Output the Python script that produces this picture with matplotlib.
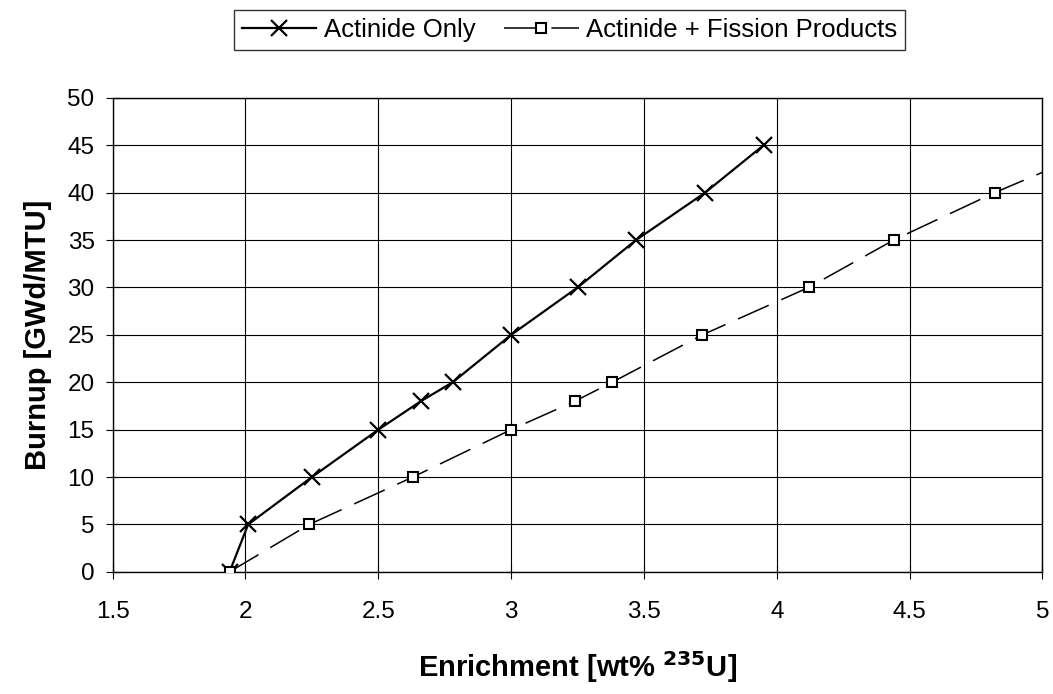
import matplotlib
matplotlib.use("Agg")
import matplotlib.pyplot as plt

plt.rcParams['font.family'] = ['Liberation Sans', 'DejaVu Sans']

# enrichment (wt% U-235) needed for each burnup step
burnup_act = [0, 5, 10, 15, 18, 20, 25, 30, 35, 40, 45]
enrich_act = [1.94, 2.01, 2.25, 2.50, 2.66, 2.78, 3.00, 3.25, 3.47, 3.73, 3.95]

burnup_fp = [0, 5, 10, 15, 18, 20, 25, 30, 35, 40, 45]
enrich_fp = [1.94, 2.24, 2.63, 3.00, 3.24, 3.38, 3.72, 4.12, 4.44, 4.82, 5.24]

x_ticks = [1.5, 2, 2.5, 3, 3.5, 4, 4.5, 5]
y_ticks = list(range(0, 51, 5))

fig = plt.figure(figsize=(10.53, 6.94), dpi=100)
ax = fig.add_axes([0.107, 0.176, 0.883, 0.683])

ax.plot(enrich_act, burnup_act, color='black', lw=1.6, marker='x',
        markersize=11, markeredgewidth=1.6, label='Actinide Only', zorder=3)
ax.plot(enrich_fp, burnup_fp, color='black', lw=1.1, dashes=(22, 9),
        marker='s', markersize=7.5, markerfacecolor='white',
        markeredgewidth=1.5, label='Actinide + Fission Products', zorder=3)

ax.set_xlim(1.5, 5)
ax.set_ylim(0, 50)
ax.set_xticks(x_ticks)
ax.set_xticklabels([f'{t:g}' for t in x_ticks])
ax.set_yticks(y_ticks)
ax.grid(True, color='black', lw=0.8)
ax.tick_params(direction='inout', length=10, width=0.8, labelsize=17.5)
ax.tick_params(axis='x', pad=16)
ax.tick_params(axis='y', pad=8)
for s in ax.spines.values():
    s.set_linewidth(1.0)

ax.set_xlabel('Enrichment [wt% $^{\\mathbf{235}}$U]', fontsize=21,
              fontweight='bold', labelpad=19)
ax.set_ylabel('Burnup [GWd/MTU]', fontsize=21, fontweight='bold', labelpad=11)

leg = fig.legend(loc='center', bbox_to_anchor=(0.541, 0.957), ncol=2,
                 fontsize=18.5, frameon=True, fancybox=False, edgecolor='black',
                 handlelength=2.9, columnspacing=1.1, borderpad=0.3,
                 handletextpad=0.3, borderaxespad=0)
leg.get_frame().set_linewidth(1.0)

fig.savefig('out.png', dpi=100, facecolor='white')
